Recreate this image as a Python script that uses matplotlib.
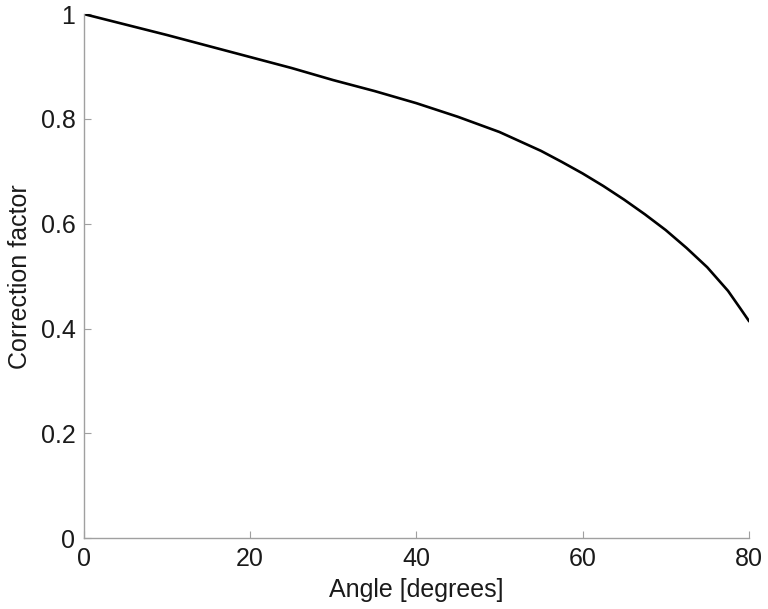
import matplotlib.pyplot as plt

# values
angle_deg = [0, 5, 10, 15, 20, 25, 30, 35, 40, 45, 50, 55, 57.5, 60,
             62.5, 65, 67.5, 70, 72.5, 75, 77.5, 79, 80]
correction = [1.0, 0.980, 0.960, 0.939, 0.918, 0.897, 0.874, 0.853, 0.830, 0.804,
              0.775, 0.739, 0.718, 0.696, 0.672, 0.646, 0.618, 0.588, 0.554, 0.517,
              0.472, 0.438, 0.415]

x_ticks = [0, 20, 40, 60, 80]
y_ticks = [0, 0.2, 0.4, 0.6, 0.8, 1]
y_tick_labels = ['0', '0.2', '0.4', '0.6', '0.8', '1']

plt.rcParams['font.family'] = ['Liberation Sans', 'DejaVu Sans']

fig = plt.figure(figsize=(7.68, 6.09), dpi=100)
ax = fig.add_axes([0.109, 0.116, 0.866, 0.861])

ax.plot(angle_deg, correction, color='black', linewidth=1.9)

ax.set_xlim(0, 80)
ax.set_ylim(0, 1)
ax.set_xticks(x_ticks)
ax.set_yticks(y_ticks)
ax.set_yticklabels(y_tick_labels)

for side in ['top', 'right']:
    ax.spines[side].set_visible(False)
for side in ['left', 'bottom']:
    ax.spines[side].set_color('#a0a0a0')
    ax.spines[side].set_linewidth(1.0)

ax.tick_params(direction='in', length=5, width=0.8, color='#a0a0a0',
               labelsize=18, labelcolor='#1a1a1a', pad=6)

ax.set_xlabel('Angle [degrees]', fontsize=18, color='#1a1a1a', labelpad=5)
ax.set_ylabel('Correction factor', fontsize=18, color='#1a1a1a', labelpad=6)

fig.savefig('out.png', dpi=100)
